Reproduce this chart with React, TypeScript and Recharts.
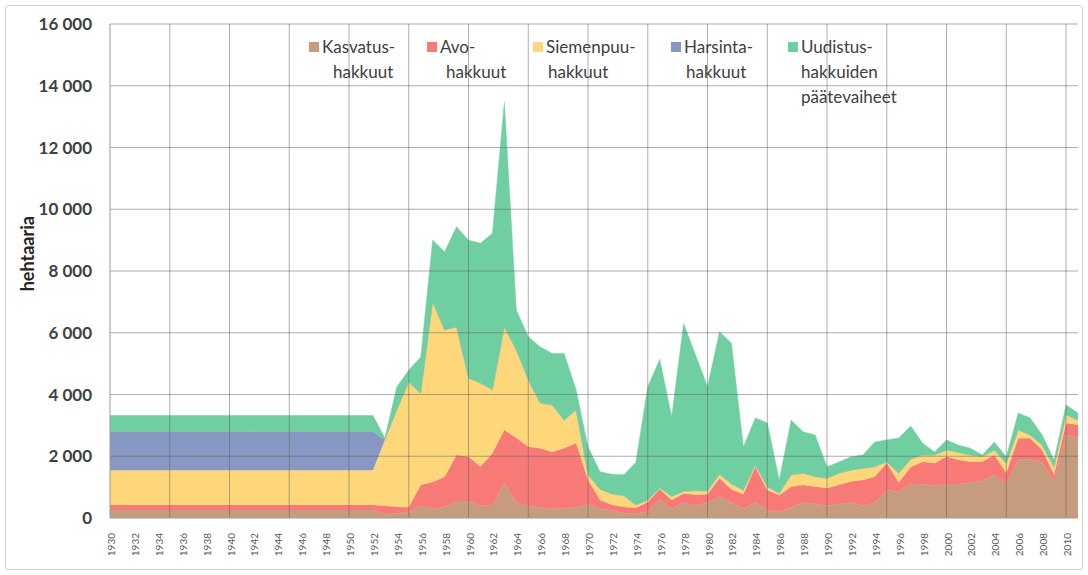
import React from 'react';
import { AreaChart, Area, XAxis, YAxis, ReferenceLine, Legend } from 'recharts';

const years = [
  1930, 1931, 1932, 1933, 1934, 1935, 1936, 1937, 1938, 1939,
  1940, 1941, 1942, 1943, 1944, 1945, 1946, 1947, 1948, 1949,
  1950, 1951, 1952, 1953, 1954, 1955, 1956, 1957, 1958, 1959,
  1960, 1961, 1962, 1963, 1964, 1965, 1966, 1967, 1968, 1969,
  1970, 1971, 1972, 1973, 1974, 1975, 1976, 1977, 1978, 1979,
  1980, 1981, 1982, 1983, 1984, 1985, 1986, 1987, 1988, 1989,
  1990, 1991, 1992, 1993, 1994, 1995, 1996, 1997, 1998, 1999,
  2000, 2001, 2002, 2003, 2004, 2005, 2006, 2007, 2008, 2009,
  2010, 2011,
];

// hehtaaria per year, 1930-2011
const kasvatus = [
  260, 260, 260, 260, 260, 260, 260, 260, 260, 260,
  260, 260, 260, 260, 260, 260, 260, 260, 260, 260,
  260, 260, 260, 120, 150, 200, 400, 300, 350, 550,
  550, 400, 400, 1150, 500, 400, 350, 300, 300, 350,
  450, 300, 250, 150, 150, 200, 600, 300, 500, 400,
  500, 700, 500, 300, 500, 250, 200, 350, 500, 450,
  400, 450, 500, 400, 500, 900, 850, 1100, 1100, 1050,
  1100, 1100, 1150, 1200, 1400, 1100, 1900, 1900, 1800, 1200,
  2700, 2600,
];

const avo = [
  160, 160, 160, 160, 160, 160, 160, 160, 160, 160,
  160, 160, 160, 160, 160, 160, 160, 160, 160, 160,
  160, 160, 160, 280, 210, 150, 670, 870, 980, 1490,
  1430, 1260, 1700, 1700, 2090, 1910, 1910, 1840, 1960, 2070,
  780, 280, 170, 210, 170, 320, 340, 280, 290, 350,
  270, 590, 420, 470, 1160, 650, 540, 660, 570, 560,
  570, 620, 680, 830, 840, 880, 300, 540, 720, 720,
  890, 780, 670, 620, 640, 350, 680, 680, 400, 200,
  370, 420,
];

const siemenpuu = [
  1130, 1130, 1130, 1130, 1130, 1130, 1130, 1130, 1130, 1130,
  1130, 1130, 1130, 1130, 1130, 1130, 1130, 1130, 1130, 1130,
  1130, 1130, 1130, 2130, 3140, 4050, 2970, 5830, 4760, 4150,
  2550, 2710, 2050, 3340, 2850, 2160, 1460, 1520, 910, 1080,
  170, 350, 360, 360, 100, 60, 30, 120, 80, 130,
  100, 130, 180, 130, 60, 110, 60, 380, 380, 330,
  320, 380, 370, 380, 320, 40, 300, 260, 220, 270,
  210, 240, 220, 170, 160, 320, 270, 110, 160, 250,
  270, 150,
];

const harsinta = [
  1250, 1250, 1250, 1250, 1250, 1250, 1250, 1250, 1250, 1250,
  1250, 1250, 1250, 1250, 1250, 1250, 1250, 1250, 1250, 1250,
  1250, 1250, 1250, 0, 0, 0, 0, 0, 0, 0,
  0, 0, 0, 0, 0, 0, 0, 0, 0, 0,
  0, 0, 0, 0, 0, 0, 0, 0, 0, 0,
  0, 0, 0, 0, 0, 0, 0, 0, 0, 0,
  0, 0, 0, 0, 0, 0, 0, 0, 0, 0,
  0, 0, 0, 0, 0, 0, 0, 0, 0, 0,
  0, 0,
];

const uudistus = [
  520, 520, 520, 520, 520, 520, 520, 520, 520, 520,
  520, 520, 520, 520, 520, 520, 520, 520, 520, 520,
  520, 520, 520, 60, 740, 390, 1170, 2000, 2530, 3240,
  4470, 4530, 5070, 7280, 1300, 1400, 1820, 1670, 2160, 650,
  900, 570, 640, 680, 1380, 3670, 4170, 2580, 5430, 4400,
  3380, 4610, 4560, 1400, 1520, 2070, 430, 1780, 1340, 1350,
  370, 360, 430, 430, 800, 710, 1140, 1080, 380, 100,
  330, 240, 220, 50, 260, 210, 550, 550, 330, 230,
  320, 230,
];

const yTicks = [0, 2000, 4000, 6000, 8000, 10000, 12000, 14000, 16000];
const gridYears = [1935, 1940, 1945, 1950, 1955, 1960, 1965, 1970, 1975, 1980, 1985, 1990, 1995, 2000, 2005, 2010];

const series = [
  { key: 'kasvatus', lines: ['Kasvatus-', 'hakkuut'], color: '#C79C7E' },
  { key: 'avo', lines: ['Avo-', 'hakkuut'], color: '#F87A77' },
  { key: 'siemenpuu', lines: ['Siemenpuu-', 'hakkuut'], color: '#FDD77A' },
  { key: 'harsinta', lines: ['Harsinta-', 'hakkuut'], color: '#8898C4' },
  { key: 'uudistus', lines: ['Uudistus-', 'hakkuiden', 'päätevaiheet'], color: '#70CFA0' },
];

const data = years.map((year, i) => ({
  year,
  kasvatus: kasvatus[i],
  avo: avo[i],
  siemenpuu: siemenpuu[i],
  harsinta: harsinta[i],
  uudistus: uudistus[i],
}));

const FONT = 'Lato, "Open Sans", sans-serif';

// legend layout inside the plot
const legendX = [309, 427, 533, 671, 788];
const legendIndent = [11, 6, 2, 2, 0];

const formatThousands = (v: number) =>
  v >= 1000 ? `${Math.floor(v / 1000)} ${String(v % 1000).padStart(3, '0')}` : String(v);

const YearTick = (props: any) => {
  const { x, y, payload } = props;
  return (
    <text
      x={x + 1}
      y={y}
      transform={`rotate(-90 ${x + 1} ${y})`}
      textAnchor="end"
      dominantBaseline="central"
      fontSize={10}
      fontFamily={FONT}
      fill="#595959"
    >
      {payload.value}
    </text>
  );
};

const LegendContent = () => (
  <svg width={1088} height={130} style={{ display: 'block' }}>
    {series.map((s, i) => (
      <g key={s.key}>
        <rect x={legendX[i]} y={42} width={10} height={10} fill={s.color} />
        {s.lines.map((line, j) => (
          <text
            key={j}
            x={legendX[i] + 13 + (j > 0 ? legendIndent[i] : 0)}
            y={53 + j * 25}
            fontSize={17}
            fontFamily={FONT}
            fill="#404040"
          >
            {line}
          </text>
        ))}
      </g>
    ))}
  </svg>
);

export default function App() {
  return (
    <div style={{ position: 'absolute', left: 0, top: 0, width: 1088, height: 575, background: '#fff' }}>
      <div
        style={{
          position: 'absolute',
          left: 5,
          top: 5,
          width: 1076,
          height: 563,
          border: '1px solid #d4d4d4',
          borderRadius: 3,
        }}
      />
      <AreaChart
        width={1088}
        height={575}
        data={data}
        margin={{ top: 24, right: 10, bottom: 0, left: 0 }}
        style={{ position: 'absolute', left: 0, top: 0 }}
      >
        <XAxis
          dataKey="year"
          type="category"
          interval={1}
          height={57}
          tickSize={0}
          tickMargin={15}
          tick={<YearTick />}
          tickLine={false}
          axisLine={{ stroke: '#9a9a9a' }}
        />
        <YAxis
          domain={[0, 16000]}
          ticks={yTicks}
          width={110}
          tickSize={0}
          tickMargin={18}
          tickLine={false}
          axisLine={{ stroke: '#9a9a9a' }}
          tickFormatter={formatThousands}
          tick={{ fontSize: 17, fontWeight: 700, fill: '#404040', fontFamily: FONT }}
          label={({ viewBox }: any) => (
            <text
              x={27}
              y={viewBox.y + viewBox.height * 0.465}
              transform={`rotate(-90 27 ${viewBox.y + viewBox.height * 0.465})`}
              textAnchor="middle"
              dominantBaseline="central"
              fontSize={18}
              fontWeight={700}
              fontFamily={FONT}
              fill="#262626"
            >
              hehtaaria
            </text>
          )}
        />
        {series.map((s) => (
          <Area
            key={s.key}
            type="linear"
            dataKey={s.key}
            stackId="1"
            stroke={s.color}
            strokeWidth={0.5}
            fill={s.color}
            fillOpacity={1}
            isAnimationActive={false}
          />
        ))}
        {yTicks.filter((v) => v > 0).map((v) => (
          <ReferenceLine key={`h${v}`} y={v} stroke="#5e5e5e" strokeOpacity={0.5} />
        ))}
        {gridYears.map((yr) => (
          <ReferenceLine key={`v${yr}`} x={yr} stroke="#5e5e5e" strokeOpacity={0.5} />
        ))}
        <Legend
          layout="horizontal"
          verticalAlign="middle"
          wrapperStyle={{ position: 'absolute', left: 0, top: 0, width: 1088, height: 130 }}
          content={<LegendContent />}
        />
      </AreaChart>
    </div>
  );
}
